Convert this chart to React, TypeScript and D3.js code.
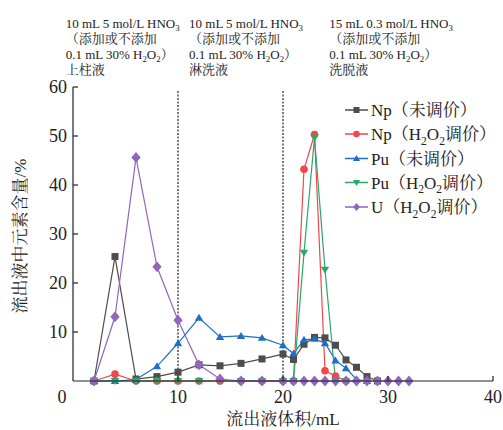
import React from "react";
import * as d3 from "d3";

// ---- data ----
const npRawX = [2, 4, 6, 8, 10, 12, 14, 16, 18, 20, 21, 22, 23, 24, 25, 26, 27, 28, 29];
const npRawY = [0, 25.4, 0.4, 0.9, 1.8, 3.3, 3.1, 3.6, 4.5, 5.5, 4.4, 7.5, 8.9, 8.8, 7.3, 4.3, 2.8, 0.9, 0];

const npH2X = [2, 4, 6, 8, 10, 12, 14, 16, 18, 20, 21, 22, 23, 24, 25, 26];
const npH2Y = [0, 1.4, 0, 0, 0, 0, 0, 0, 0, 0, 0, 43.2, 50.3, 2.1, 1.0, 0];

const puRawX = [2, 4, 6, 8, 10, 12, 14, 16, 18, 20, 21, 22, 23, 24, 25, 26, 27, 28];
const puRawY = [0, 0, 0.3, 3.0, 7.7, 12.9, 9.0, 9.2, 8.8, 7.3, 5.6, 8.4, 8.6, 7.7, 4.2, 2.6, 0.3, 0];

const puH2X = [2, 4, 6, 8, 10, 12, 14, 16, 18, 20, 21, 22, 23, 24, 25, 26];
const puH2Y = [0, 0, 0, 0, 0, 0, 0, 0, 0, 0, 0, 26.2, 49.7, 22.7, 0, 0];

const uH2X = [2, 4, 6, 8, 10, 12, 14, 16, 18, 20, 21, 22, 23, 24, 25, 26, 27, 28, 29, 30, 31, 32];
const uH2Y = [0, 13.1, 45.6, 23.3, 12.4, 3.3, 0.4, 0, 0, 0, 0, 0, 0, 0, 0, 0, 0, 0, 0, 0, 0, 0];

const seriesLabels = ["Np（未调价）", "Np（H2O2调价）", "Pu（未调价）", "Pu（H2O2调价）", "U（H2O2调价）"];
const seriesColors = ["#4d4d4d", "#f2464b", "#1f6fc4", "#2aa86a", "#9167bb"];
const seriesMarkers = ["square", "circle", "triangle", "triangleDown", "diamond"];

const xTicks = [0, 10, 20, 30, 40];
const yTicks = [10, 20, 30, 40, 50, 60];
const dividers = [10, 20];

const stageX = [-0.7, 11.05, 24.4];
const stageLines = [
  ["10 mL 5 mol/L HNO3", "（添加或不添加", "0.1 mL 30% H2O2）", "上柱液"],
  ["10 mL 5 mol/L HNO3", "（添加或不添加", "0.1 mL 30% H2O2）", "淋洗液"],
  ["15 mL 0.3 mol/L HNO3", "（添加或不添加", "0.1 mL 30% H2O2）", "洗脱液"],
];

const xTitle = "流出液体积/mL";
const yTitle = "流出液中元素含量/%";

const FONT = "'Liberation Serif','Times New Roman','Noto Serif CJK SC','Noto Sans CJK SC',serif";

function rich(s: string, fs: number) {
  const segs: { t: string; sub: boolean }[] = [];
  for (let i = 0; i < s.length; i++) {
    const c = s[i];
    const sub = /\d/.test(c) && i > 0 && /[A-Z]/.test(s[i - 1]);
    const last = segs[segs.length - 1];
    if (last && last.sub === sub) last.t += c;
    else segs.push({ t: c, sub });
  }
  const off = fs * 0.28;
  let shifted = false;
  return segs.map((sg, i) => {
    let dy = 0;
    if (sg.sub && !shifted) { dy = off; shifted = true; }
    else if (!sg.sub && shifted) { dy = -off; shifted = false; }
    return (
      <tspan key={i} dy={dy || undefined} fontSize={sg.sub ? fs * 0.68 : undefined}>
        {sg.t}
      </tspan>
    );
  });
}

function Marker({ type, x, y, color, s }: { type: string; x: number; y: number; color: string; s: number }) {
  if (type === "square") return <rect x={x - s / 2} y={y - s / 2} width={s} height={s} fill={color} />;
  if (type === "circle") return <circle cx={x} cy={y} r={s / 2 + 0.3} fill={color} />;
  if (type === "triangle") {
    const h = s * 0.95;
    return <path d={`M${x},${y - h * 0.6}L${x + s * 0.6},${y + h * 0.45}L${x - s * 0.6},${y + h * 0.45}Z`} fill={color} />;
  }
  if (type === "triangleDown") {
    const h = s * 0.95;
    return <path d={`M${x},${y + h * 0.6}L${x + s * 0.6},${y - h * 0.45}L${x - s * 0.6},${y - h * 0.45}Z`} fill={color} />;
  }
  const r = s * 0.68;
  return <path d={`M${x},${y - r}L${x + r * 0.85},${y}L${x},${y + r}L${x - r * 0.85},${y}Z`} fill={color} />;
}

export default function App() {
  const W = 503, H = 430;
  const x = d3.scaleLinear().domain([0, 40]).range([73, 493]);
  const y = d3.scaleLinear().domain([0, 60]).range([381, 87]);
  const allX = [npRawX, npH2X, puRawX, puH2X, uH2X];
  const allY = [npRawY, npH2Y, puRawY, puH2Y, uH2Y];
  const line = d3.line<[number, number]>().x((d) => x(d[0])).y((d) => y(d[1]));

  const legendY = [110, 134, 158.5, 182.5, 207];

  return (
    <svg width={W} height={H} style={{ position: "absolute", left: 0, top: 0, background: "#fff" }} fontFamily={FONT}>
      {/* stage annotations */}
      {stageLines.map((lines, si) =>
        lines.map((ln, li) => (
          <text key={`s${si}-${li}`} x={x(stageX[si])} y={27.5 + li * 15.5} fontSize={13} fill="#222">
            {rich(ln, 13)}
          </text>
        ))
      )}

      {/* dividers */}
      {dividers.map((d) => (
        <line key={d} x1={x(d)} x2={x(d)} y1={y(59.2)} y2={y(0)} stroke="#222" strokeWidth={1.2} strokeDasharray="2,1.5" />
      ))}

      {/* series */}
      {allX.map((xs, si) => {
        const pts = xs.map((v, i) => [v, allY[si][i]] as [number, number]);
        return (
          <g key={si}>
            <path d={line(pts) || ""} fill="none" stroke={seriesColors[si]} strokeWidth={1.2} />
          </g>
        );
      })}
      {allX.map((xs, si) => (
        <g key={`m${si}`}>
          {xs.map((v, i) => (
            <Marker key={i} type={seriesMarkers[si]} x={x(v)} y={y(allY[si][i])} color={seriesColors[si]} s={si === 4 ? 8 : 7} />
          ))}
        </g>
      ))}

      {/* axes */}
      <line x1={x(0)} x2={x(40)} y1={y(0)} y2={y(0)} stroke="#222" strokeWidth={1.2} />
      <line x1={x(0)} x2={x(0)} y1={y(0)} y2={y(60)} stroke="#222" strokeWidth={1.2} />
      {xTicks.filter((t) => t > 0).map((t) => (
        <line key={`xt${t}`} x1={x(t)} x2={x(t)} y1={y(0)} y2={y(0) - 5} stroke="#222" strokeWidth={1.2} />
      ))}
      {yTicks.map((t) => (
        <line key={`yt${t}`} x1={x(0)} x2={x(0) + 5} y1={y(t)} y2={y(t)} stroke="#222" strokeWidth={1.2} />
      ))}
      {xTicks.map((t) => (
        <text key={`xl${t}`} x={t === 0 ? x(0) - 11 : x(t)} y={403} fontSize={18} textAnchor="middle" fill="#222">
          {t}
        </text>
      ))}
      {yTicks.map((t) => (
        <text key={`yl${t}`} x={67} y={y(t) + 6} fontSize={18} textAnchor="end" fill="#222">
          {t}
        </text>
      ))}
      <text x={283} y={425} fontSize={17} textAnchor="middle" fill="#222">{xTitle}</text>
      <text transform={`translate(26,236) rotate(-90)`} fontSize={17} textAnchor="middle" fill="#222">{yTitle}</text>

      {/* legend */}
      {seriesLabels.map((lab, i) => (
        <g key={`lg${i}`}>
          <line x1={345} x2={368} y1={legendY[i]} y2={legendY[i]} stroke={seriesColors[i]} strokeWidth={1.5} />
          <Marker type={seriesMarkers[i]} x={356.5} y={legendY[i]} color={seriesColors[i]} s={6} />
          <text x={371} y={legendY[i] + 6} fontSize={17} fill="#222">
            {rich(lab, 17)}
          </text>
        </g>
      ))}
    </svg>
  );
}
